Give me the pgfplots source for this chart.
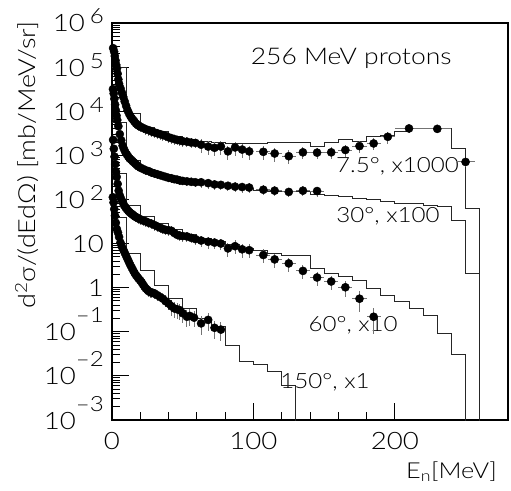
\documentclass[border=0pt]{standalone}
\usepackage{fontspec}
\setmainfont{Lato}[UprightFont=* Light, FakeStretch=1.15]
\usepackage{pgfplots}
\pgfplotsset{compat=1.18}
\usepackage{pgfplotstable}
\newcommand{\fs}[1]{\fontsize{#1}{#1}\selectfont}
\newcommand{\pexp}[1]{10\hspace{5pt}\raisebox{8pt}{\fs{21}#1}}
\newcommand{\nexp}[1]{10\raisebox{18pt}{\fs{21}\textendash#1}}

% 7.5 deg x1000
\pgfplotstableread{
x y ex ey
0.8 2.69e5 0 0.1
1.5 2.24e5 0 0.1
2 1.78e5 0 0.1
2.5 1.41e5 0 0.1
3 1.12e5 0 0.1
3.5 9.3e4 0 0.1
4 7.08e4 0 0.1
4.5 5.25e4 0 0.1
5 4.17e4 0 0.1
6 3.31e4 0 0.1
7 2.63e4 0 0.1
8 2.09e4 0 0.1
9 1.66e4 0 0.1
10 1.32e4 0 0.1
11 1.05e4 0 0.1
12 8.91e3 0 0.1
13 7.76e3 0 0.1
14 6.92e3 0 0.1
15 6.31e3 0 0.1
16 5.75e3 0 0.25
17 5.25e3 0 0.25
18 4.90e3 0 0.25
19 4.68e3 0 0.25
20 4.47e3 0 0.25
22 4.17e3 0 0.25
24 3.89e3 0 0.25
26 3.72e3 0 0.25
28 3.47e3 0 0.25
30 3.31e3 0 0.25
32 3.16e3 0 0.25
34 3.02e3 0 0.25
36 2.88e3 0 0.25
38 2.75e3 0 0.25
40 2.57e3 0 0.25
42 2.45e3 0 0.25
44 2.34e3 0 0.25
46 2.24e3 0 0.25
48 2.19e3 0 0.25
50 2.09e3 0 0.25
53 2.04e3 0 0.25
56 1.95e3 0 0.25
59 1.91e3 0 0.25
63 1.74e3 2.5 0.35
68 1.58e3 2.5 0.35
72.5 1.48e3 2.5 0.35
77 1.58e3 2.5 0.35
82 1.23e3 2.5 0.35
87 1.51e3 2.5 0.35
92 1.35e3 2.5 0.35
97 1.23e3 2.5 0.35
107 1.20e3 5 0.35
115 1.10e3 5 0.35
125 9.55e2 5 0.35
135 1.17e3 5 0.3
145 1.15e3 5 0.3
155 1.17e3 5 0.3
165 1.32e3 5 0.3
175 1.62e3 5 0.3
185 1.86e3 5 0.3
195 2.63e3 5 0.3
210 4.07e3 10 0.2
230 3.98e3 10 0.2
250 7.08e2 7 0.25
}\tA

% 30 deg x100
\pgfplotstableread{
x y ex ey
0.7 3.16e4 0 0.1
1.2 2.51e4 0 0.1
1.7 1.91e4 0 0.1
2.2 1.41e4 0 0.1
2.7 1.05e4 0 0.1
3.2 7.94e3 0 0.1
3.7 6.31e3 0 0.1
4.5 4.57e3 0 0.1
5.5 3.02e3 0 0.1
6.5 2.19e3 0 0.1
7.5 1.66e3 0 0.1
8.5 1.38e3 0 0.1
9.5 1.17e3 0 0.1
10.5 1.05e3 0 0.1
11.5 9.33e2 0 0.1
12.5 8.51e2 0 0.1
13.5 7.94e2 0 0.1
14.5 7.41e2 0 0.1
15.5 6.92e2 0 0.1
16.5 6.46e2 0 0.1
17.5 6.03e2 0 0.1
18.5 5.62e2 0 0.1
20 5.25e2 0 0.2
22 4.90e2 0 0.2
24 4.57e2 0 0.2
26 4.37e2 0 0.2
28 4.07e2 0 0.2
30 3.89e2 0 0.2
32 3.72e2 0 0.2
34 3.55e2 0 0.2
36 3.39e2 0 0.2
38 3.24e2 0 0.2
40 3.09e2 0 0.2
42 3.02e2 0 0.2
44 2.88e2 0 0.2
46 2.82e2 0 0.2
48 2.69e2 0 0.2
50 2.63e2 0 0.2
53 2.57e2 0 0.2
56 2.51e2 0 0.2
59 2.45e2 0 0.2
63 2.45e2 2.5 0.25
68 2.34e2 2.5 0.25
72.5 2.19e2 2.5 0.25
77 2.14e2 2.5 0.25
82 2.04e2 2.5 0.25
87 1.95e2 2.5 0.25
92 1.91e2 2.5 0.25
97 1.86e2 2.5 0.25
107 1.66e2 5 0.25
115 1.58e2 5 0.25
125 1.48e2 5 0.25
135 1.58e2 5 0.25
145 1.55e2 5 0.25
}\tB

% 60 deg x10
\pgfplotstableread{
x y ex ey
0.8 2.24e3 0 0.1
1.3 1.41e3 0 0.1
1.8 9.33e2 0 0.1
2.3 6.31e2 0 0.1
2.8 4.27e2 0 0.1
3.3 3.24e2 0 0.1
4 2.24e2 0 0.1
4.7 1.58e2 0 0.1
5.5 1.23e2 0 0.1
6.5 1.02e2 0 0.1
7.5 87.1 0 0.1
8.5 74.1 0 0.1
9.5 66.1 0 0.1
10.5 60.3 0 0.1
11.5 55.0 0 0.1
12.5 51.3 0 0.1
13.5 47.9 0 0.1
14.5 45.7 0 0.1
15.5 42.7 0 0.1
16.5 40.7 0 0.1
17.5 38.9 0 0.1
18.5 37.2 0 0.25
20 35.5 0 0.25
22 33.1 0 0.25
24 31.6 0 0.25
26 29.5 0 0.25
28 28.2 0 0.25
30 26.3 0 0.25
32 24.5 0 0.25
34 22.9 0 0.25
36 21.4 0 0.25
38 20.4 0 0.25
40 20.0 0 0.25
42 19.5 0 0.25
44 17.4 0 0.25
46 15.8 0 0.25
48 15.1 0 0.25
50 14.8 0 0.25
53 14.5 0 0.25
56 13.5 0 0.25
59 12.6 0 0.25
63 11.7 2.5 0.3
68 11.0 2.5 0.3
72.5 10.5 2.5 0.3
77 10.0 2.5 0.3
82 7.76 2.5 0.35
87 8.71 2.5 0.35
92 7.41 2.5 0.35
97 7.08 2.5 0.35
107 5.50 5 0.35
115 4.37 5 0.35
125 3.55 5 0.35
135 2.40 5 0.35
145 1.70 5 0.35
155 1.38 5 0.35
165 1.02 5 0.4
175 0.562 5 0.5
185 0.219 5 0.6
}\tC

% 150 deg x1
\pgfplotstableread{
x y ex ey
0.6 112 0 0.15
1.1 85.1 0 0.15
1.6 60.3 0 0.15
2.1 42.7 0 0.15
2.7 29.5 0 0.15
3.4 21.4 0 0.15
4.2 17.8 0 0.15
5 14.1 0 0.15
6 10.5 0 0.15
7 8.51 0 0.15
8 7.24 0 0.15
9 6.17 0 0.15
10 5.25 0 0.15
11 4.47 0 0.15
12 3.80 0 0.15
13 3.24 0 0.15
14 2.82 0 0.15
15 2.45 0 0.15
16 2.14 0 0.15
17 1.91 0 0.15
18 1.74 0 0.15
19 1.58 0 0.15
20 1.45 0 0.25
21 1.32 0 0.25
22 1.17 0 0.25
23 1.05 0 0.25
24 0.955 0 0.25
25 0.891 0 0.25
26 0.832 0 0.25
27 0.794 0 0.25
28 0.776 0 0.25
29 0.759 0 0.25
30 0.741 0 0.25
32 0.676 0 0.25
34 0.617 0 0.25
36 0.562 0 0.25
38 0.490 0 0.25
40 0.437 0 0.3
42 0.380 0 0.4
44 0.339 0 0.4
46 0.324 0 0.4
48 0.309 0 0.4
50 0.263 0 0.4
53 0.219 0 0.4
55 0.229 0 0.4
58 0.209 0 0.4
63 0.155 0 0.45
68 0.186 0 0.45
72.5 0.123 0 0.45
77 0.112 0 0.45
}\tD

% histograms (bin left edge, value)
\pgfplotstableread{
x y
0 1.0e5
10 8.71e3
20 4.27e3
30 3.55e3
40 2.69e3
50 2.29e3
60 2.04e3
70 1.91e3
80 1.86e3
90 1.82e3
100 1.82e3
110 1.95e3
120 1.95e3
130 1.91e3
140 1.58e3
150 2.00e3
160 2.29e3
170 2.04e3
180 2.63e3
190 2.88e3
200 3.39e3
210 4.07e3
220 3.98e3
230 3.98e3
240 1.45e3
250 63.1
260 1e-4
}\hA
\pgfplotstableread{
x y
0 5.62e3
10 7.76e2
20 4.47e2
30 3.55e2
40 2.95e2
50 2.63e2
60 2.29e2
70 2.04e2
80 1.86e2
90 1.74e2
100 1.62e2
110 1.55e2
120 1.51e2
130 1.48e2
140 1.32e2
150 1.26e2
160 1.15e2
170 1.07e2
180 97.7
190 89.1
200 81.3
210 81.3
220 74.1
230 67.6
240 33.1
250 2.09
260 1e-4
}\hB
\pgfplotstableread{
x y
0 3.98e2
10 74.1
20 40.7
30 28.2
40 20.4
50 15.8
60 13.2
70 11.2
80 9.33
90 7.94
100 6.92
110 6.03
120 5.50
130 5.25
140 2.75
150 2.09
160 1.78
170 1.48
180 0.955
190 0.676
200 0.479
210 0.339
220 0.240
230 0.0912
240 0.0309
250 1e-4
}\hC
\pgfplotstableread{
x y
0 39.8
10 6.03
20 2.51
30 1.15
40 0.575
50 0.339
60 0.200
70 0.129
80 0.0501
90 0.0209
100 0.0186
110 0.0123
120 0.00617
130 1e-4
}\hD

\begin{document}
\begin{tikzpicture}
\begin{axis}[
  name=ax, scale only axis, width=396pt, height=397pt,
  xmin=0, xmax=280, ymin=1e-3, ymax=1e6, ymode=log,
  axis line style={line width=1.2pt},
  tick style={line width=1pt, black},
  major tick length=17pt, minor tick length=8pt,
  tick align=inside, tick pos=left,
  xtick={0,100,200}, xticklabels={0,100,200}, minor x tick num=4,
  ytick={1e-3,1e-2,1e-1,1,10,100,1e3,1e4,1e5,1e6},
  yticklabels={\nexp{3},\nexp{2},\nexp{1},1\hspace{21pt},10\hspace{21pt},\pexp{2},\pexp{3},\pexp{4},\pexp{5},\pexp{6}},
  minor ytick={2e-3,3e-3,4e-3,5e-3,6e-3,7e-3,8e-3,9e-3,
    2e-2,3e-2,4e-2,5e-2,6e-2,7e-2,8e-2,9e-2,
    2e-1,3e-1,4e-1,5e-1,6e-1,7e-1,8e-1,9e-1,
    2,3,4,5,6,7,8,9,20,30,40,50,60,70,80,90,
    200,300,400,500,600,700,800,900,
    2e3,3e3,4e3,5e3,6e3,7e3,8e3,9e3,
    2e4,3e4,4e4,5e4,6e4,7e4,8e4,9e4,
    2e5,3e5,4e5,5e5,6e5,7e5,8e5,9e5},
  xticklabel style={font=\fs{24}, inner sep=0pt, anchor=north, yshift=-12pt},
  yticklabel style={font=\fs{24}, inner sep=0pt, anchor=base east, xshift=-8pt, yshift=-9pt},
  error bars/error bar style={black!55, line width=1pt},
]
\node[font=\fs{23}] at (rel axis cs:0.604,0.912) {256 MeV protons};
\node[font=\fs{21}] at (rel axis cs:0.721,0.640) {7.5°, x1000};
\node[font=\fs{21}] at (rel axis cs:0.697,0.514) {30°, x100};
\node[font=\fs{21}] at (rel axis cs:0.609,0.239) {60°, x10};
\node[font=\fs{21}] at (rel axis cs:0.538,0.094) {150°, x1};

\addplot[const plot, black!85, line width=0.9pt] table[x=x,y=y] {\hA};
\addplot[const plot, black!85, line width=0.9pt] table[x=x,y=y] {\hB};
\addplot[const plot, black!85, line width=0.9pt] table[x=x,y=y] {\hC};
\addplot[const plot, black!85, line width=0.9pt] table[x=x,y=y] {\hD};

\pgfplotsset{every axis plot/.append style={only marks, mark=*, mark size=4.1pt, mark options={fill=black, draw=black}}}
\addplot[black, error bars/.cd, x dir=both, x explicit, y dir=both, y explicit relative, error mark=none] table[x=x,y=y,x error=ex,y error=ey] {\tA};
\addplot[black, error bars/.cd, x dir=both, x explicit, y dir=both, y explicit relative, error mark=none] table[x=x,y=y,x error=ex,y error=ey] {\tB};
\addplot[black, error bars/.cd, x dir=both, x explicit, y dir=both, y explicit relative, error mark=none] table[x=x,y=y,x error=ex,y error=ey] {\tC};
\addplot[black, error bars/.cd, x dir=both, x explicit, y dir=both, y explicit relative, error mark=none] table[x=x,y=y,x error=ex,y error=ey] {\tD};
\end{axis}
\node[font=\fs{23.5}, rotate=90, anchor=center] at ([shift={(-85pt,255pt)}]ax.south west) {d\textsuperscript{2}σ/(dEdΩ) [mb/MeV/sr]};
\node[font=\fs{22}, anchor=base east, inner sep=0pt] at ([shift={(385pt,-58pt)}]ax.south west) {E\textsubscript{n}[MeV]};
\pgfresetboundingbox
\path[use as bounding box] ([shift={(-112pt,-70pt)}]ax.south west) rectangle ([shift={(3pt,23pt)}]ax.north east);
\end{tikzpicture}
\end{document}
